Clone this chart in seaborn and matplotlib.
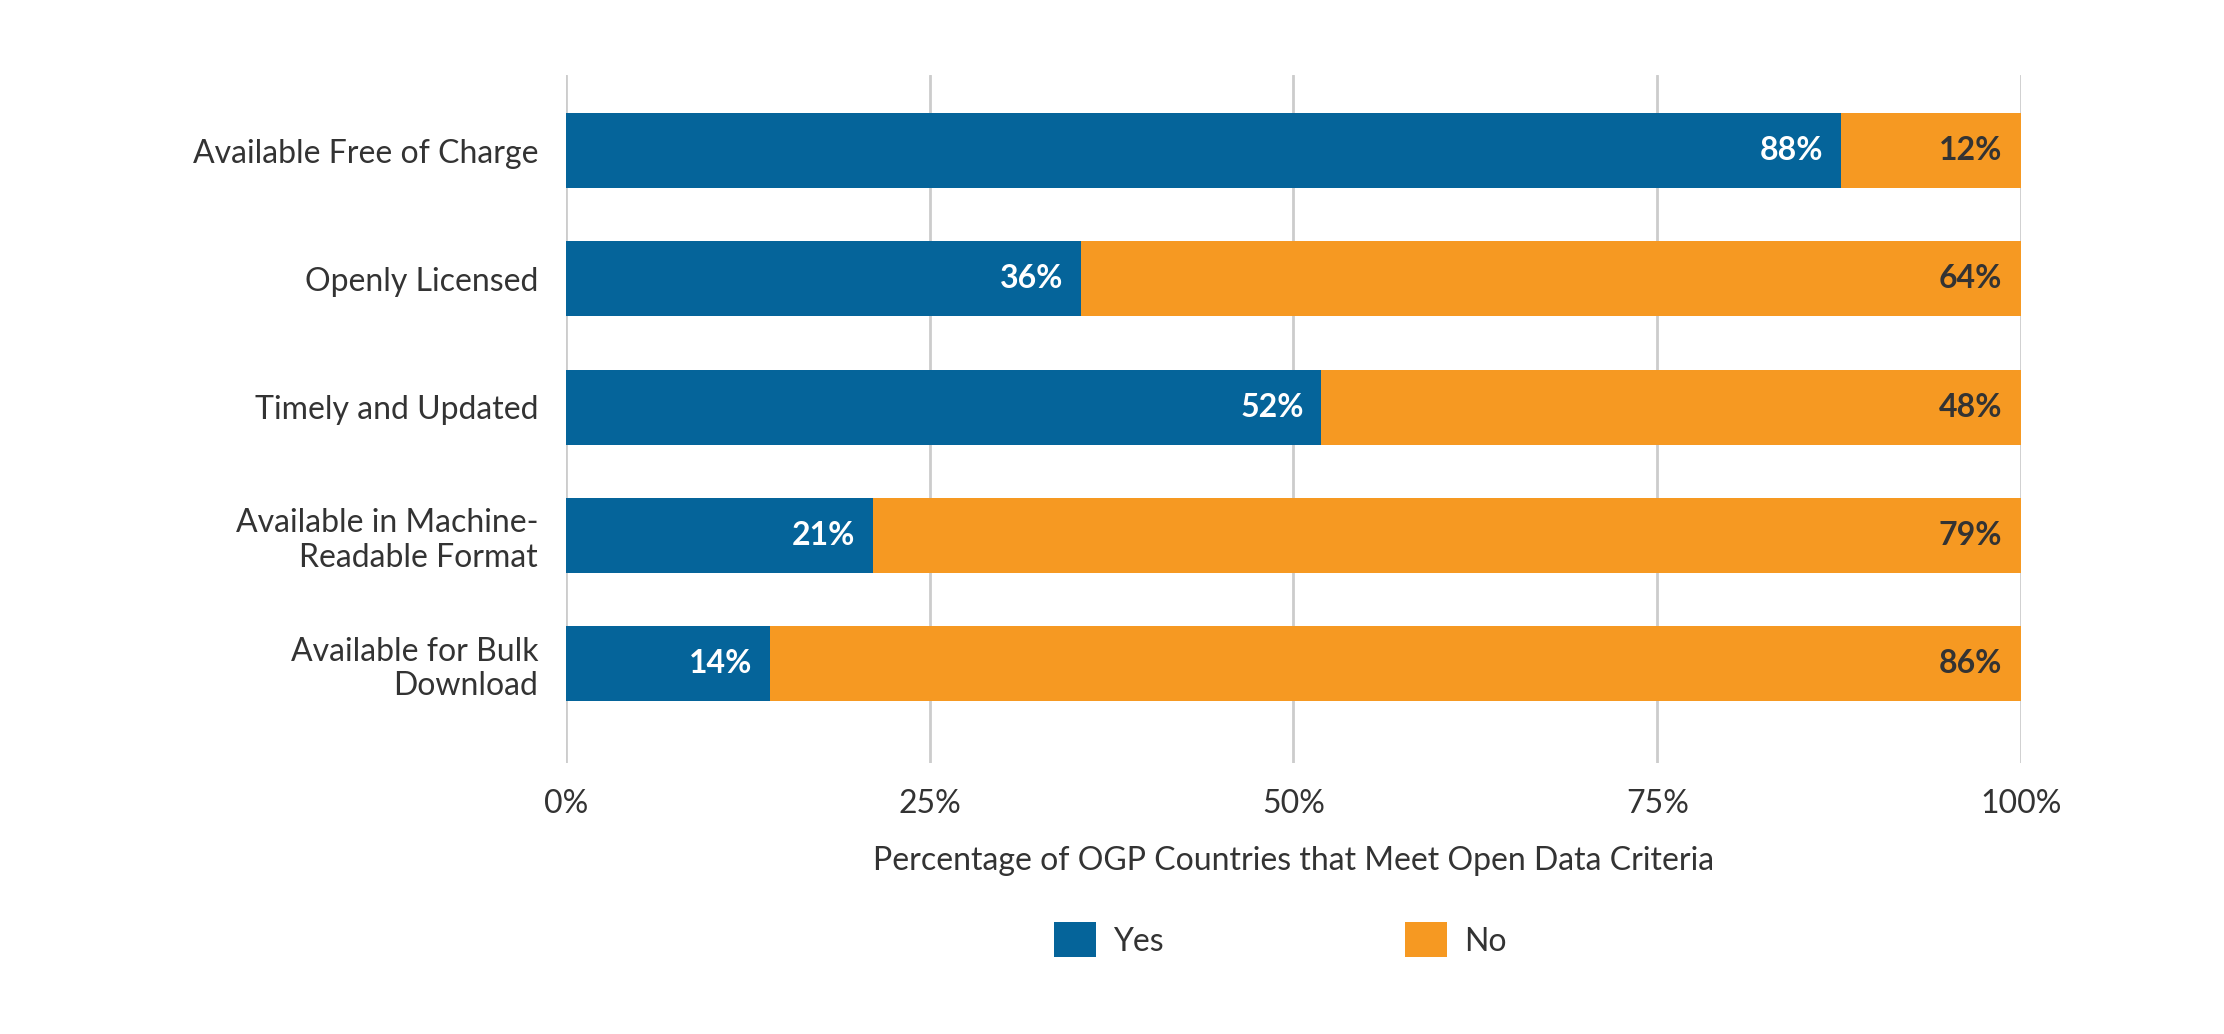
import matplotlib
matplotlib.use("Agg")
import matplotlib.pyplot as plt
from matplotlib.patches import Patch
import seaborn as sns
import pandas as pd

categories = ["Available Free of Charge", "Openly Licensed", "Timely and Updated",
              "Available in Machine-\nReadable Format", "Available for Bulk\nDownload"]
yes_values = [87.6, 35.4, 51.9, 21.1, 14.0]
no_values = [12.4, 64.6, 48.1, 78.9, 86.0]
yes_labels = ["88%", "36%", "52%", "21%", "14%"]
no_labels = ["12%", "64%", "48%", "79%", "86%"]
x_ticks = [0, 25, 50, 75, 100]
x_ticklabels = ["0%", "25%", "50%", "75%", "100%"]
x_label = "Percentage of OGP Countries that Meet Open Data Criteria"
legend_labels = ["Yes", "No"]

BLUE = "#05649A"
ORANGE = "#F69922"
TEXT = "#333333"
GRID = "#cccccc"
FS = 23

sns.set_theme(style="white")
plt.rcParams["font.family"] = ["Lato", "DejaVu Sans"]

df = pd.DataFrame({"category": categories, "yes": yes_values, "no": no_values})
df["total"] = df["yes"] + df["no"]

fig = plt.figure(figsize=(22.24, 10.34), dpi=100)
ax = fig.add_axes([0.2545, 0.2621, 0.9087 - 0.2545, 0.9275 - 0.2621])

for xv in x_ticks:
    ax.axvline(xv, color=GRID, lw=2, zorder=0)

sns.barplot(data=df, x="total", y="category", orient="h", color=ORANGE,
            width=0.585, saturation=1, ax=ax, zorder=2, linewidth=0)
sns.barplot(data=df, x="yes", y="category", orient="h", color=BLUE,
            width=0.585, saturation=1, ax=ax, zorder=3, linewidth=0)

for i, (yv, tv, yl, nl) in enumerate(zip(df["yes"], df["total"], yes_labels, no_labels)):
    ax.text(yv - 1.2, i, yl, ha="right", va="center", color="white",
            fontsize=FS, fontweight="bold", zorder=5)
    ax.text(tv - 1.3, i, nl, ha="right", va="center", color=TEXT,
            fontsize=FS, fontweight="bold", zorder=5)

ax.set_xlim(0, 100)
ax.set_ylim(4.775, -0.59)
ax.set_xticks(x_ticks)
ax.set_xticklabels(x_ticklabels)
ax.tick_params(axis="x", length=0, pad=19, labelsize=FS, labelcolor=TEXT)
ax.tick_params(axis="y", length=0, pad=20, labelsize=FS, labelcolor=TEXT)
ax.set_ylabel("")
ax.set_xlabel(x_label, fontsize=FS, color=TEXT, labelpad=19)
for s in ax.spines.values():
    s.set_visible(False)

colors = [BLUE, ORANGE]
lefts = [1054 / 2224, 1405 / 2224]
for c, lab, lx in zip(colors, legend_labels, lefts):
    leg = fig.legend([Patch(facecolor=c, edgecolor="none")], [lab], loc="center left",
                     bbox_to_anchor=(lx, 0.091), frameon=False, fontsize=FS,
                     labelcolor=TEXT, borderpad=0, borderaxespad=0,
                     handlelength=1.3, handleheight=1.3, handletextpad=0.55)

fig.savefig("out.png", dpi=100, facecolor="white")
